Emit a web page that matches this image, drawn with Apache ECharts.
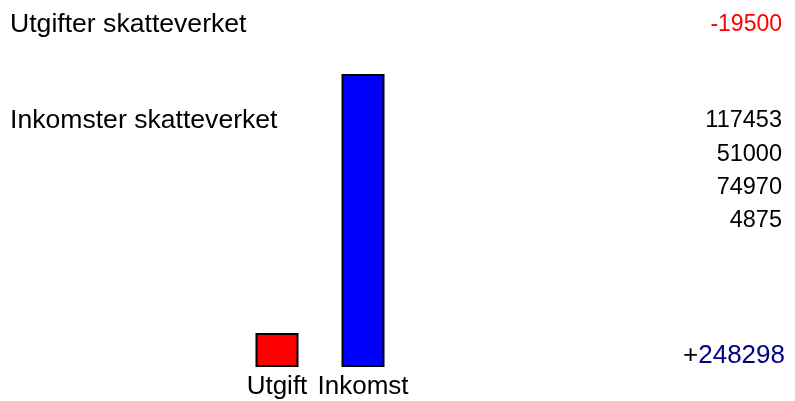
<!DOCTYPE html>
<html>
<head>
<meta charset="utf-8">
<script src="https://cdn.jsdelivr.net/npm/echarts@6/dist/echarts.min.js"></script>
<style>
  html, body { margin: 0; padding: 0; background: #fff; }
  #main { width: 795px; height: 401px; }
</style>
</head>
<body>
<div id="main"></div>
<script>
// categories and values
var categories = ['Utgift', 'Inkomst'];
var barValues = [19500, 248298];
var barColors = ['#ff0000', '#0000ff'];
var utgiftRows = [-19500];
var inkomstRows = [117453, 51000, 74970, 4875];
var total = 248298;

var chart = echarts.init(document.getElementById('main'));
var font = 'Liberation Sans, Arial, sans-serif';

var rowY = [121, 155, 188, 221];
var graphics = [
  { type: 'text', x: 10, y: 25, style: { text: 'Utgifter skatteverket', font: '26.6px ' + font, fill: '#000', verticalAlign: 'middle' } },
  { type: 'text', x: 10, y: 121, style: { text: 'Inkomster skatteverket', font: '26.6px ' + font, fill: '#000', verticalAlign: 'middle' } },
  { type: 'text', x: 782, y: 25, style: { text: String(utgiftRows[0]), font: '23px ' + font, fill: '#ff0000', align: 'right', verticalAlign: 'middle' } }
];
inkomstRows.forEach(function (v, i) {
  graphics.push({ type: 'text', x: 782, y: rowY[i], style: { text: String(v), font: '23.5px ' + font, fill: '#000', align: 'right', verticalAlign: 'middle' } });
});
graphics.push({
  type: 'text', x: 785, y: 356,
  style: {
    text: '{p|+}{n|' + total + '}',
    align: 'right',
    verticalAlign: 'middle',
    rich: {
      p: { font: '26px ' + font, fill: '#000' },
      n: { font: '26px ' + font, fill: '#000080' }
    }
  }
});

chart.setOption({
  animation: false,
  backgroundColor: '#fff',
  grid: { left: 234, right: 389, top: 74, bottom: 34, outerBoundsMode: 'none', containLabel: false },
  xAxis: {
    type: 'category',
    data: categories,
    axisLine: { show: false },
    axisTick: { show: false },
    axisLabel: { color: '#000', fontSize: 26, fontFamily: font, margin: 7, interval: 0 }
  },
  yAxis: {
    type: 'value',
    min: -10420,
    max: 248298,
    startValue: -10420,
    show: false,
    splitLine: { show: false }
  },
  graphic: graphics,
  series: [{
    type: 'bar',
    barWidth: 43,
    data: barValues.map(function (v, i) {
      return { value: v, itemStyle: { color: barColors[i], borderColor: '#000', borderWidth: 2 } };
    })
  }]
});
</script>
</body>
</html>
